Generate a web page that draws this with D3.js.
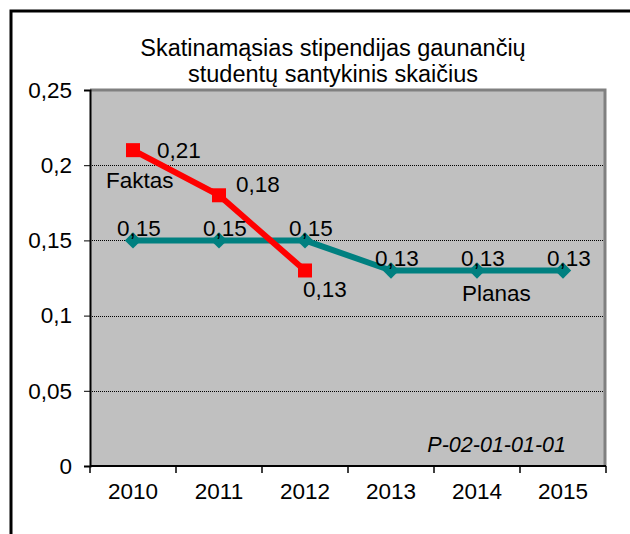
<!DOCTYPE html>
<html>
<head>
<meta charset="utf-8">
<script src="https://cdn.jsdelivr.net/npm/d3@7"></script>
<style>
  body { margin: 0; background: #fff; }
  text { font-family: 'Liberation Sans', Arial, sans-serif; }
</style>
</head>
<body>
<div id="chart"></div>
<script>
const years = ['2010', '2011', '2012', '2013', '2014', '2015'];
const faktas = [0.21, 0.18, 0.13];
const planas = [0.15, 0.15, 0.15, 0.13, 0.13, 0.13];
const yTicks = [0, 0.05, 0.1, 0.15, 0.2, 0.25];
const titleLines = ['Skatinamąsias stipendijas gaunančių', 'studentų santykinis skaičius'];

const fmt = v => String(v).replace('.', ',');

const width = 630;
const height = 534;
const plot = { left: 90, right: 606, top: 90, bottom: 466 };
const fontSize = '22.5px';

const svg = d3.select('#chart')
  .append('svg')
  .attr('width', width)
  .attr('height', height);

svg.append('rect')
  .attr('width', width).attr('height', height)
  .attr('fill', '#fff');

// outer frame (cut off at right and bottom)
svg.append('rect')
  .attr('x', 11).attr('y', 11)
  .attr('width', 640).attr('height', 540)
  .attr('fill', 'none')
  .attr('stroke', '#000')
  .attr('stroke-width', 3);

const x = d3.scaleBand()
  .domain(years)
  .range([plot.left, plot.right]);

const y = d3.scaleLinear()
  .domain([0, 0.25])
  .range([plot.bottom, plot.top]);

const cx = d => x(d) + x.bandwidth() / 2;

// plot background
svg.append('rect')
  .attr('x', plot.left).attr('y', plot.top)
  .attr('width', plot.right - plot.left)
  .attr('height', plot.bottom - plot.top)
  .attr('fill', '#C0C0C0');

svg.append('path')
  .attr('d', `M${plot.left},${plot.top} H${plot.right - 1} V${plot.bottom}`)
  .attr('fill', 'none')
  .attr('stroke', '#808080')
  .attr('stroke-width', 3);

// gridlines
svg.append('g')
  .selectAll('line')
  .data(yTicks.filter(t => t > 0 && t < 0.25))
  .enter()
  .append('line')
  .attr('x1', plot.left).attr('x2', plot.right - 2)
  .attr('y1', d => Math.round(y(d)) + 0.5)
  .attr('y2', d => Math.round(y(d)) + 0.5)
  .attr('stroke', '#000')
  .attr('stroke-width', 1)
  .attr('stroke-dasharray', '1,1');

// y axis
const yAxis = svg.append('g')
  .attr('transform', `translate(${plot.left},0)`)
  .call(d3.axisLeft(y).tickValues(yTicks).tickSize(6).tickPadding(12).tickFormat(fmt));
yAxis.select('.domain').attr('stroke-width', 2);
yAxis.selectAll('text')
  .attr('font-size', fontSize)
  .attr('fill', '#000')
  .style('font-family', "'Liberation Sans', Arial, sans-serif");

// x axis
const tickPositions = years.map(d => x(d)).concat([plot.right]);
const xAxis = svg.append('g')
  .attr('transform', `translate(0,${plot.bottom})`);
xAxis.append('line')
  .attr('x1', plot.left).attr('x2', plot.right)
  .attr('stroke', '#000').attr('stroke-width', 2);
xAxis.selectAll('line.tick')
  .data(tickPositions)
  .enter()
  .append('line')
  .attr('class', 'tick')
  .attr('x1', d => d).attr('x2', d => d)
  .attr('y1', 0).attr('y2', 7)
  .attr('stroke', '#000').attr('stroke-width', 1.5);
xAxis.selectAll('text')
  .data(years)
  .enter()
  .append('text')
  .attr('x', d => cx(d))
  .attr('y', 33)
  .attr('text-anchor', 'middle')
  .attr('font-size', fontSize)
  .text(d => d);

// title
svg.append('text')
  .attr('x', 333)
  .attr('y', 56)
  .attr('text-anchor', 'middle')
  .attr('font-size', '23.5px')
  .selectAll('tspan')
  .data(titleLines)
  .enter()
  .append('tspan')
  .attr('x', 333)
  .attr('dy', (d, i) => i === 0 ? 0 : 26)
  .text(d => d);

const planasData = planas.map((v, i) => ({ year: years[i], value: v }));
const faktasData = faktas.map((v, i) => ({ year: years[i], value: v }));

const line = d3.line()
  .x(d => cx(d.year))
  .y(d => y(d.value));

// Planas line
svg.append('path')
  .datum(planasData)
  .attr('d', line)
  .attr('fill', 'none')
  .attr('stroke', '#008080')
  .attr('stroke-width', 6)
  .attr('stroke-linejoin', 'round');

svg.selectAll('path.diamond')
  .data(planasData)
  .enter()
  .append('path')
  .attr('class', 'diamond')
  .attr('d', d3.symbol().type(d3.symbolDiamond2).size(170))
  .attr('transform', d => `translate(${cx(d.year)},${y(d.value)})`)
  .attr('fill', '#008080');

// Faktas line
svg.append('path')
  .datum(faktasData)
  .attr('d', line)
  .attr('fill', 'none')
  .attr('stroke', '#FF0000')
  .attr('stroke-width', 6);

svg.selectAll('rect.square')
  .data(faktasData)
  .enter()
  .append('rect')
  .attr('class', 'square')
  .attr('x', d => cx(d.year) - 7)
  .attr('y', d => y(d.value) - 7)
  .attr('width', 14).attr('height', 14)
  .attr('fill', '#FF0000');

// data labels
svg.selectAll('text.plabel')
  .data(planasData)
  .enter()
  .append('text')
  .attr('class', 'plabel')
  .attr('x', d => cx(d.year) + 6)
  .attr('y', d => y(d.value) - 4)
  .attr('text-anchor', 'middle')
  .attr('font-size', fontSize)
  .text(d => fmt(d.value));

// right, right, below
const faktasLabelOffset = [[24, 8], [17, -3], [-2, 27]];
svg.selectAll('text.flabel')
  .data(faktasData)
  .enter()
  .append('text')
  .attr('class', 'flabel')
  .attr('x', (d, i) => cx(d.year) + faktasLabelOffset[i][0])
  .attr('y', (d, i) => y(d.value) + faktasLabelOffset[i][1])
  .attr('font-size', fontSize)
  .text(d => fmt(d.value));

// series names
svg.append('text')
  .attr('x', 106).attr('y', 188)
  .attr('font-size', fontSize)
  .text('Faktas');

svg.append('text')
  .attr('x', 462).attr('y', 301)
  .attr('font-size', fontSize)
  .text('Planas');

svg.append('text')
  .attr('x', 566).attr('y', 452)
  .attr('text-anchor', 'end')
  .attr('font-size', '21.5px')
  .attr('font-style', 'italic')
  .text('P-02-01-01-01');
</script>
</body>
</html>
